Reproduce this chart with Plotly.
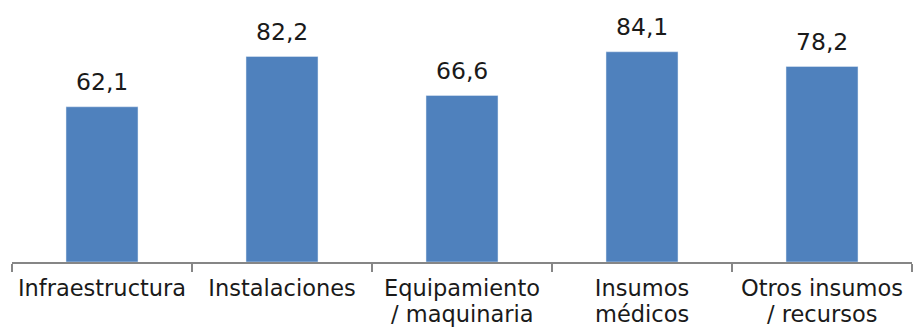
import plotly.graph_objects as go

categories = ["Infraestructura", "Instalaciones", "Equipamiento<br>/ maquinaria", "Insumos<br>médicos", "Otros insumos<br>/ recursos"]
values = [62.1, 82.2, 66.6, 84.1, 78.2]
value_labels = [f"{v:.1f}".replace(".", ",") for v in values]

FONT = "DejaVu Sans"
TXT = "#1a1a1a"

first_lines = [c.split("<br>")[0] for c in categories]
second_lines = [c.split("<br>")[1] if "<br>" in c else "" for c in categories]

fig = go.Figure(go.Bar(
    x=categories, y=values, marker_color="#4F81BD", width=0.4,
    hoverinfo="skip",
))

for c, v, t in zip(categories, values, value_labels):
    fig.add_annotation(x=c, y=v, text=t, showarrow=False, yanchor="bottom",
                       yshift=9, font=dict(family=FONT, size=23.5, color=TXT))

# second lines of the category labels, tighter line spacing than plotly's default
for c, s in zip(categories, second_lines):
    if s:
        fig.add_annotation(x=c, y=0, yref="paper", text=s, showarrow=False,
                           yanchor="top", yshift=-37,
                           font=dict(family=FONT, size=22.5, color=TXT))

fig.update_layout(
    width=914, height=327,
    margin=dict(l=12, r=2, t=12, b=65),
    paper_bgcolor="white", plot_bgcolor="white",
    showlegend=False,
    xaxis=dict(
        type="category", showline=True, linecolor="#868686", linewidth=2,
        ticks="outside", tickson="boundaries", ticklen=8, tickwidth=2, tickcolor="#868686",
        tickmode="array", tickvals=categories, ticktext=first_lines,
        ticklabelstandoff=5,
        tickfont=dict(family=FONT, size=22.5, color=TXT),
        showgrid=False, zeroline=False,
    ),
    yaxis=dict(range=[0, 100], visible=False, showgrid=False, zeroline=False),
)

fig.write_html("out.html")
